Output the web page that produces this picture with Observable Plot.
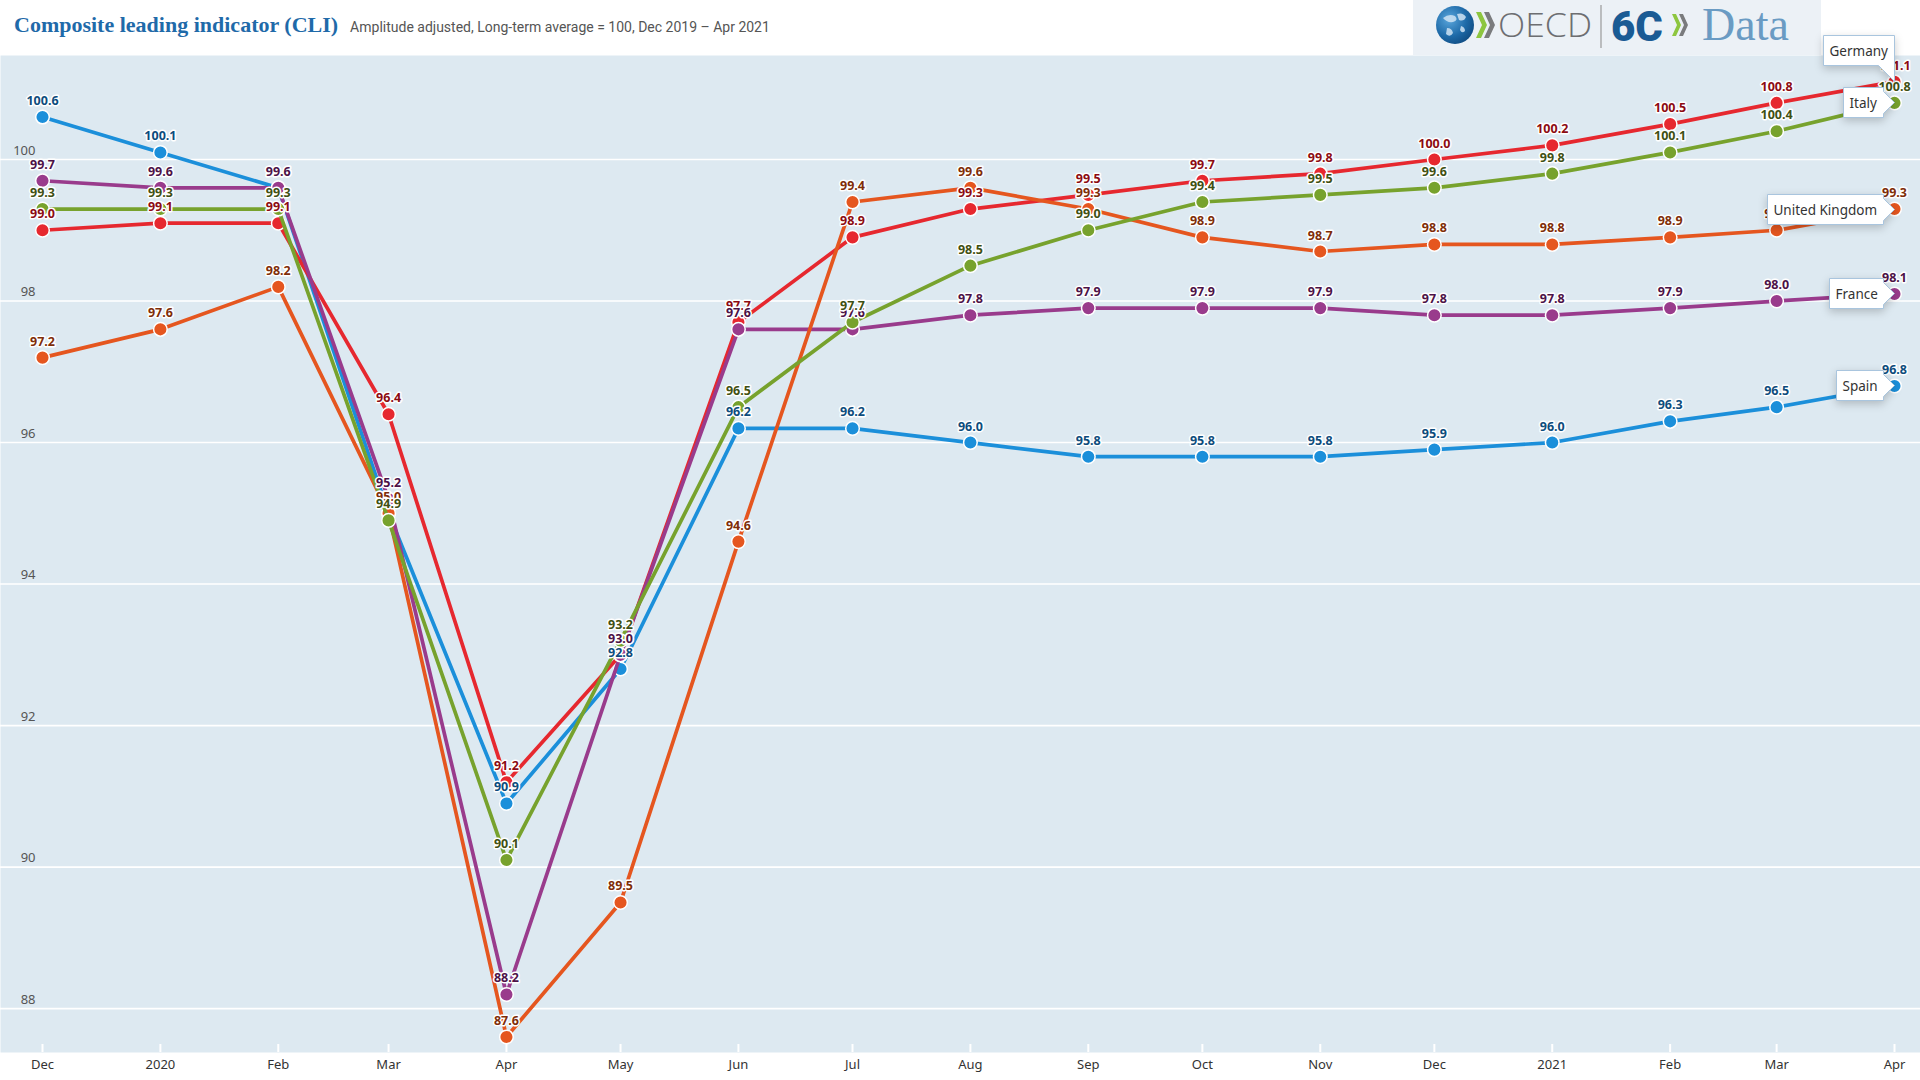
<!DOCTYPE html>
<html>
<head>
<meta charset="utf-8">
<script src="https://cdn.jsdelivr.net/npm/d3@7"></script>
<script src="https://cdn.jsdelivr.net/npm/@observablehq/plot@0.6"></script>
<style>
  html, body { margin: 0; padding: 0; background: #ffffff; }
  body { position: relative; width: 1920px; height: 1080px; overflow: hidden; font-family: "Noto Sans", sans-serif; }
  #header { position: absolute; left: 0; top: 0; width: 1920px; height: 55px; box-sizing: border-box; padding: 12px 0 0 14px; display: flex; align-items: baseline; }
  #title { font-family: "Liberation Serif", serif; font-weight: bold; font-size: 22px; color: #1f6aa9; }
  #subtitle { margin-left: 12px; font-family: Roboto, sans-serif; font-size: 14px; color: #555; }
  #logo { position: absolute; left: 1413px; top: 0; width: 408px; height: 55px; background: #ecf1f6; }
  #chart { position: absolute; left: 0; top: 0; width: 1920px; height: 1080px; }
</style>
</head>
<body>
<div id="header">
  <div id="title">Composite leading indicator (CLI)</div>
  <div id="subtitle">Amplitude adjusted, Long-term average = 100, Dec 2019 – Apr 2021</div>
  <div id="logo">
    <svg width="408" height="55" viewBox="0 0 408 55">
      <defs>
        <radialGradient id="globe" cx="0.35" cy="0.35" r="0.75">
          <stop offset="0" stop-color="#5aa6dc"/>
          <stop offset="0.6" stop-color="#1e6aa8"/>
          <stop offset="1" stop-color="#0f4a80"/>
        </radialGradient>
      </defs>
      <circle cx="42" cy="25" r="19" fill="url(#globe)"/>
      <path d="M30 18 q6 -5 12 -2 q4 4 -2 6 q-6 1 -10 -4z M44 14 q6 -2 9 3 q-2 5 -7 3z M34 28 q5 0 6 5 q-3 5 -7 1z M48 26 q4 1 4 5 q-3 3 -5 -1z" fill="#cfe3f3" opacity="0.85"/>
      <path d="M63 12 l5 0 l6 13 l-6 13 l-5 0 l6 -13z" fill="#8dc63f"/>
      <path d="M71 12 l5 0 l6 13 l-6 13 l-5 0 l6 -13z" fill="#7a7b7d"/>
      <text x="85" y="37" font-family="Open Sans, sans-serif" font-weight="300" font-size="33" fill="#6d6e71" textLength="94" lengthAdjust="spacingAndGlyphs">OECD</text>
      <line x1="188" y1="5" x2="188" y2="48" stroke="#9a9a9a" stroke-width="1.2"/>
      <text x="198" y="41" font-family="Roboto, sans-serif" font-weight="900" font-size="42" fill="#1a5b94">6C</text>
      <path d="M259 14 l4 0 l5 11 l-5 11 l-4 0 l5 -11z" fill="#8dc63f"/>
      <path d="M266 14 l4 0 l5 11 l-5 11 l-4 0 l5 -11z" fill="#7a7b7d"/>
      <text x="289" y="40" font-family="Liberation Serif, serif" font-size="46" fill="#6a9bc3">Data</text>
    </svg>
  </div>
</div>
<div id="chart"></div>
<script>
// ---- data ----
const months = ["2019-12-01","2020-01-01","2020-02-01","2020-03-01","2020-04-01","2020-05-01","2020-06-01","2020-07-01","2020-08-01","2020-09-01","2020-10-01","2020-11-01","2020-12-01","2021-01-01","2021-02-01","2021-03-01","2021-04-01"];
const tickLabels = ["Dec","2020","Feb","Mar","Apr","May","Jun","Jul","Aug","Sep","Oct","Nov","Dec","2021","Feb","Mar","Apr"];
const yTicks = [88, 90, 92, 94, 96, 98, 100];

const spain   = [100.6,100.1,99.6,95.0,90.9,92.8,96.2,96.2,96.0,95.8,95.8,95.8,95.9,96.0,96.3,96.5,96.8];
const germany = [99.0,99.1,99.1,96.4,91.2,93.0,97.7,98.9,99.3,99.5,99.7,99.8,100.0,100.2,100.5,100.8,101.1];
const france  = [99.7,99.6,99.6,95.2,88.2,93.0,97.6,97.6,97.8,97.9,97.9,97.9,97.8,97.8,97.9,98.0,98.1];
const uk      = [97.2,97.6,98.2,95.0,87.6,89.5,94.6,99.4,99.6,99.3,98.9,98.7,98.8,98.8,98.9,99.0,99.3];
const italy   = [99.3,99.3,99.3,94.9,90.1,93.2,96.5,97.7,98.5,99.0,99.4,99.5,99.6,99.8,100.1,100.4,100.8];

const seriesNames  = ["Spain","Germany","France","United Kingdom","Italy"];
const seriesValues = [spain, germany, france, uk, italy];
const lineColors   = ["#1b8fda","#e6282f","#993b8c","#e5561f","#77a22d"];
const labelColors  = ["#0d4c7c","#8c0b12","#4c1247","#7e2d08","#3f5013"];
const tipAnchors   = ["right","bottom-right","right","right","right"];

// ---- build ----
const dates = months.map(m => new Date(m + "T00:00:00Z"));
const W = 1920, H = 1080, MT = 55, MB = 28;
const plotH = H - MT - MB;

const marks = [
  Plot.frame({fill: "#dde9f1", stroke: null}),
  Plot.gridY(yTicks, {stroke: "#ffffff", strokeOpacity: 1, strokeWidth: 1.6}),
  Plot.text(yTicks, {y: d => d, text: d => String(d), frameAnchor: "left", dx: 35, dy: -9, textAnchor: "end", fill: "#555", fontSize: 13}),
  Plot.ruleX(dates, {x: d => d, stroke: "#ffffff", strokeWidth: 2, insetTop: plotH - 8}),
  Plot.text(dates, {x: d => d, text: (d, i) => tickLabels[i], frameAnchor: "bottom", dy: 16, fill: "#333", fontSize: 13})
];

const allRows = [];
seriesNames.forEach((name, s) => {
  const rows = dates.map((d, i) => ({date: d, value: seriesValues[s][i], series: name}));
  allRows.push(rows);
  marks.push(Plot.line(rows, {x: "date", y: "value", stroke: lineColors[s], strokeWidth: 3.7, curve: "linear"}));
  marks.push(Plot.dot(rows, {x: "date", y: "value", r: 6.8, fill: lineColors[s], stroke: "#ffffff", strokeWidth: 1.5}));
});
seriesNames.forEach((name, s) => {
  marks.push(Plot.text(allRows[s], {x: "date", y: "value", text: d => d.value.toFixed(1), dy: -16,
    fill: labelColors[s], stroke: "#ffffff", strokeWidth: 3, paintOrder: "stroke", fontWeight: "bold", fontSize: 12.5}));
});
seriesNames.forEach((name, s) => {
  const last = allRows[s][allRows[s].length - 1];
  if (typeof Plot.tip === "function") {
    marks.push(Plot.tip([last], {x: "date", y: "value", title: () => name, anchor: tipAnchors[s],
      fontSize: 13.5, fill: "#ffffff", stroke: "#a9c5de", strokeWidth: 1, pointerSize: s === 1 ? 16 : 22, textPadding: 6}));
  } else {
    marks.push(Plot.text([last], {x: "date", y: "value", text: () => name, dx: -24, textAnchor: "end", fill: "#333", fontSize: 13}));
  }
});

const chart = Plot.plot({
  width: W,
  height: H,
  marginTop: MT,
  marginBottom: MB,
  marginLeft: 0,
  marginRight: 0,
  style: {background: "transparent", color: "#333", fontFamily: "'Noto Sans', sans-serif", overflow: "visible"},
  x: {type: "utc", domain: [dates[0], dates[dates.length - 1]], range: [42, 1894], axis: null},
  y: {domain: [87.38, 101.47], axis: null},
  marks
});
document.getElementById("chart").appendChild(chart);
</script>
</body>
</html>
